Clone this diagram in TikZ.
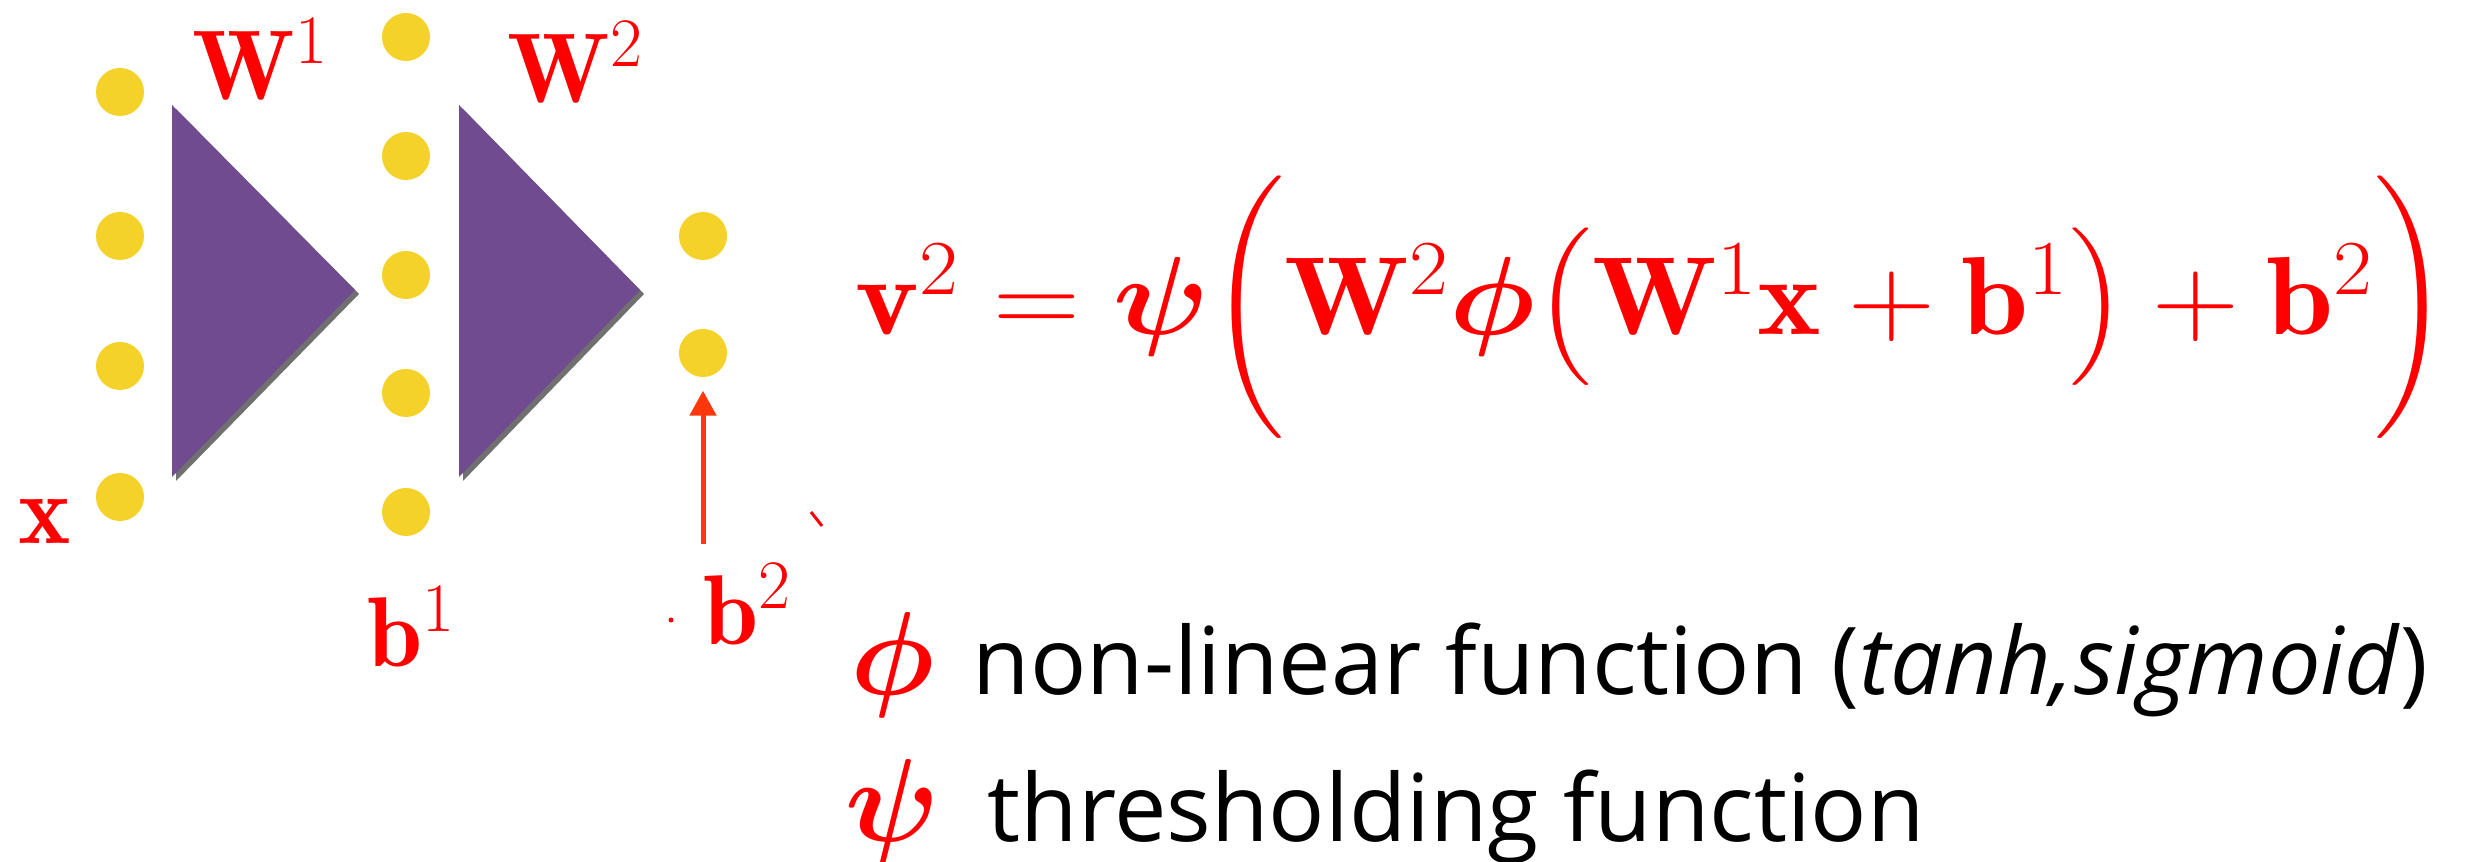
\RequirePackage{fix-cm}
\documentclass[tikz,border=0pt]{standalone}
\usepackage{amsmath}
\usepackage{bm}
\usepackage{fontspec}
\newfontfamily\osans{Open Sans}
\usetikzlibrary{arrows.meta,shadows}

\definecolor{unityellow}{RGB}{245,210,42}
\definecolor{layerpurple}{RGB}{112,75,144}
\definecolor{biasred}{RGB}{255,55,10}
\definecolor{labred}{RGB}{255,0,0}

\tikzset{
    unit/.style={circle, fill=unityellow, minimum size=0.48cm, inner sep=0pt},
    layer/.style={fill=layerpurple, drop shadow={shadow xshift=0.04cm, shadow yshift=-0.04cm, fill=black!80, opacity=0.7}},
    lab/.style={text=labred, inner sep=0pt, anchor=base west, font=\fontsize{28.2}{30}\selectfont},
    eqn/.style={text=labred, inner sep=0pt, anchor=base west, font=\fontsize{31.6}{34}\selectfont},
    sym/.style={text=labred, inner sep=0pt, anchor=base west, font=\fontsize{33.6}{36}\selectfont},
    desc/.style={inner sep=0pt, anchor=base west, font=\osans\fontsize{26.6}{30}\selectfont},
    bias/.style={draw=biasred, line width=0.05cm, -{Triangle[length=0.25cm,width=0.26cm]}, shorten >=0.13cm}
}

\begin{document}
\begin{tikzpicture}[x=0.01cm, y=-0.01cm]
    \useasboundingbox (0,0) rectangle (2471,862);
    % the two weight layers
    \fill[layer] (172,105) -- (355,290) -- (172,477) -- cycle;
    \fill[layer] (459,105) -- (640,290) -- (459,477) -- cycle;
    % units
    \foreach \y [count=\i] in {92,236,366,497}
        \node[unit] (in\i) at (120,\y) {};
    \foreach \y [count=\i] in {37,156,275,393,512}
        \node[unit] (hid\i) at (406,\y) {};
    \foreach \y [count=\i] in {236,353}
        \node[unit] (out\i) at (703,\y) {};
    % labels
    \node[lab] (w1) at (192,100) {$\mathbf{W}^1$};
    \node[lab] (w2) at (507,103) {$\mathbf{W}^2$};
    \node[lab] (xlab) at (18,544) {$\mathbf{x}$};
    \node[lab] (b1) at (367,667) {$\mathbf{b}^1$};
    \node[lab] (b2) at (703,645) {$\mathbf{b}^2$};
    % bias into the output
    \coordinate (btail) at (703,544);
    \draw[bias] (btail) -- (out2);
    \fill[labred] (671,620) circle (2.5);
    \draw[labred, line width=0.03cm] (811,512) -- (822,526);
    % formula
    \node[eqn] (eq) at (855,335) {\scalebox{1.085}[1]{$\mathbf{v}^2=\boldsymbol{\psi}\biggl(\mathbf{W}^2\boldsymbol{\phi}\bigl(\mathbf{W}^1\mathbf{x}+\mathbf{b}^1\bigr)+\mathbf{b}^2\biggr)$}};
    \node[sym] (phi) at (850,695) {$\boldsymbol{\phi}$};
    \node[desc] (phitxt) at (972,695) {non-linear function (\textit{tanh,sigmoid})};
    \node[sym] (psi) at (845,842) {$\boldsymbol{\psi}$};
    \node[desc] (psitxt) at (987,842) {thresholding function};
\end{tikzpicture}
\end{document}
